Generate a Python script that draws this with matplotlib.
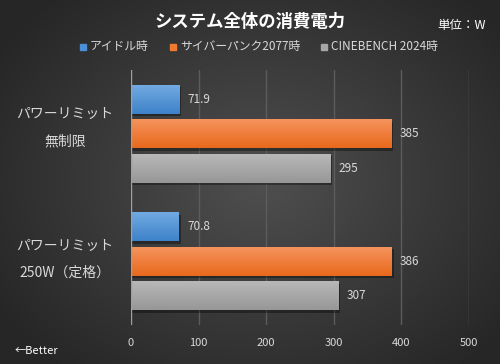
import numpy as np
import matplotlib.pyplot as plt
from matplotlib.patches import Rectangle

plt.rcParams['font.family'] = ['Noto Sans CJK JP', 'DejaVu Sans']

categories = ["パワーリミット\n無制限", "パワーリミット\n250W（定格）"]
series_names = ["アイドル時", "サイバーパンク2077時", "CINEBENCH 2024時"]
idle = [71.9, 70.8]
cyberpunk = [385, 386]
cinebench = [295, 307]
xticks = [0, 100, 200, 300, 400, 500]

# gradient top/bottom colours per series
grads = [("#72aae2", "#3d82c9"), ("#f5935c", "#e8691c"), ("#b8b8b8", "#979797")]
legend_cols = ["#4a90d9", "#f07a30", "#a6a6a6"]
txt = "#d9d9d9"

W, H = 500, 364
fig = plt.figure(figsize=(W / 100, H / 100), dpi=100)

# radial dark background
bg = fig.add_axes([0, 0, 1, 1], zorder=-10)
yy, xx = np.mgrid[0:H, 0:W]
r = np.sqrt(((xx - 260) / 330.0) ** 2 + ((yy - 180) / 260.0) ** 2)
shade = np.clip(0.31 - 0.17 * r, 0.15, 0.31)
bg.imshow(np.dstack([shade] * 3), extent=[0, 1, 0, 1], aspect="auto")
bg.axis("off")

ax = fig.add_axes([131 / W, 1 - 325 / H, (469 - 131) / W, (325 - 70) / H])
ax.set_facecolor("none")

bh = 29 / 127.5
off = 34.5 / 127.5
series = [idle, cyberpunk, cinebench]
for si, vals in enumerate(series):
    top, bot = grads[si]
    c1 = np.array(plt.matplotlib.colors.to_rgb(top))
    c2 = np.array(plt.matplotlib.colors.to_rgb(bot))
    g = np.linspace(0, 1, 50)[:, None]
    img = (c1[None, :] * (1 - g) + c2[None, :] * g)[:, None, :]
    for ci, v in enumerate(vals):
        y = ci + (si - 1) * off
        # shadow
        ax.add_patch(Rectangle((0, y - bh / 2 + 0.02), v + 2.5, bh, color="black", alpha=0.35, zorder=2, lw=0))
        rect = Rectangle((0, y - bh / 2), v, bh, facecolor="none", lw=0, zorder=3)
        ax.add_patch(rect)
        im = ax.imshow(img, extent=[0, v, y + bh / 2, y - bh / 2], aspect="auto", zorder=3)
        im.set_clip_path(rect)
        ax.text(v + 12, y, f"{v:g}", color=txt, fontsize=8.5, va="center", ha="left", zorder=4)

ax.set_xlim(0, 500)
ax.set_ylim(1.5, -0.5)
for t in xticks[1:]:
    ax.axvline(t, color="#5c5c5c", lw=1, zorder=1)
ax.axvline(0, color="#a0a0a0", lw=1, zorder=4)
for s in ax.spines.values():
    s.set_visible(False)
ax.set_xticks(xticks)
ax.tick_params(axis="x", length=0, colors=txt, labelsize=8, pad=9)
ax.set_yticks([0, 1])
ax.set_yticklabels([])
ax.tick_params(axis="y", length=0)

for ci, lab in enumerate(categories):
    l1, l2 = lab.split("\n")
    yc = 1 - (128 + ci * 131.5) / H
    fig.text(65 / W, yc + 14 / H, l1, color=txt, fontsize=10, ha="center", va="center")
    fig.text(65 / W, yc - 13 / H, l2, color=txt, fontsize=10, ha="center", va="center")

fig.text(250 / W, 1 - 22 / H, "システム全体の消費電力", color="white", fontsize=12.5,
         fontweight="bold", ha="center", va="center")
fig.text(462 / W, 1 - 25 / H, "単位：W", color="white", fontsize=9, ha="center", va="center")

lx = [80, 170, 321]
for i, name in enumerate(series_names):
    fig.patches.append(Rectangle((lx[i] / W, 1 - 50 / H), 6 / W, 6 / H, color=legend_cols[i],
                                 transform=fig.transFigure, figure=fig))
    fig.text((lx[i] + 10) / W, 1 - 46.5 / H, name, color=txt, fontsize=8.5, ha="left", va="center")

fig.text(15 / W, 1 - 351 / H, "←Better", color="white", fontsize=8, ha="left", va="center")

fig.savefig("out.png", dpi=100)
